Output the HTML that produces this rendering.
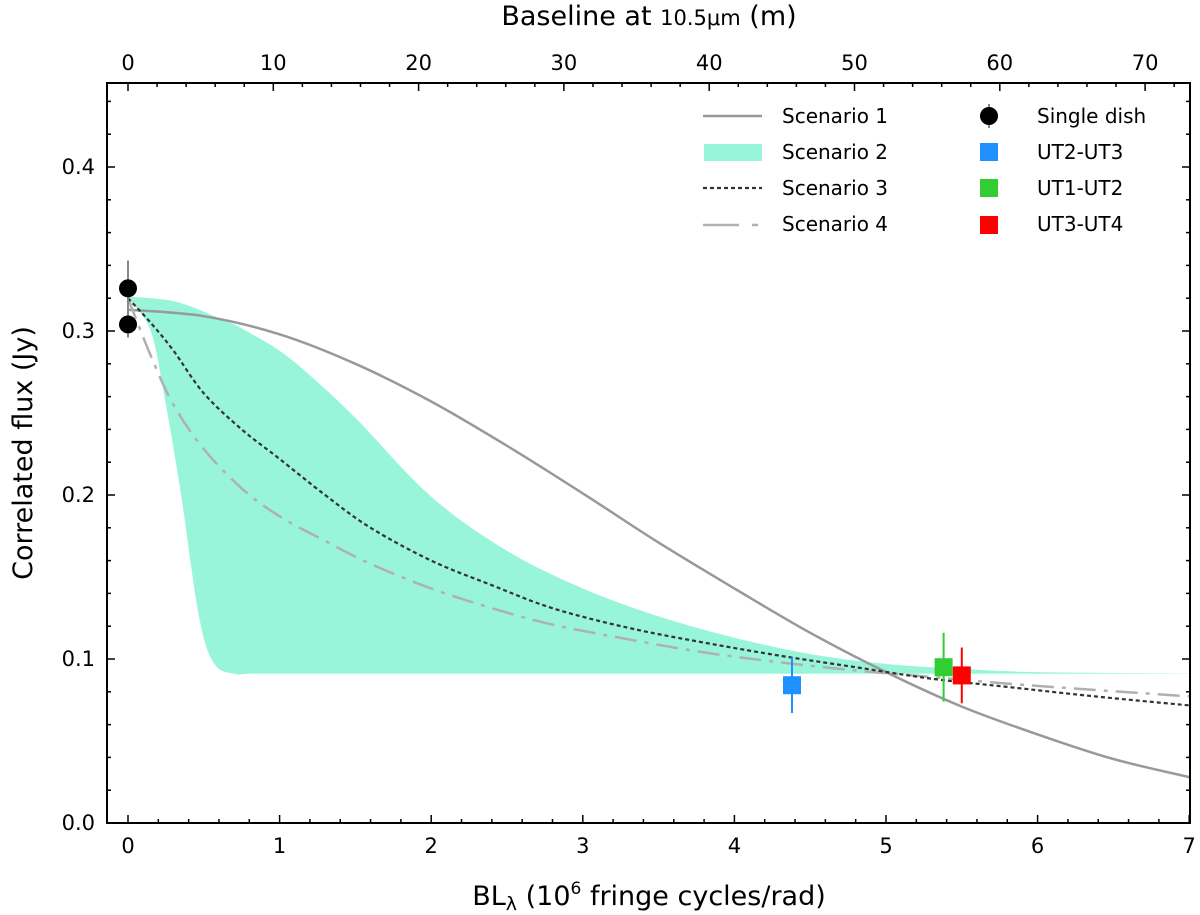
<!DOCTYPE html>
<html><head><meta charset="utf-8">
<style>
html,body{margin:0;padding:0;background:#fff;}
svg{display:block;font-family:"DejaVu Sans","Liberation Sans",sans-serif;}
</style></head>
<body>
<svg id="chart" width="1200" height="915" viewBox="0 0 1200 915">
<defs><clipPath id="clip"><rect x="107" y="83" width="1083" height="740"/></clipPath></defs>
<g id="plot" clip-path="url(#clip)"></g>
<g id="axes"></g>
<text x="649" y="905" text-anchor="middle" font-size="27">BL<tspan font-size="19" dy="5">λ</tspan><tspan dy="-5"> (10</tspan><tspan font-size="17" dy="-11">6</tspan><tspan dy="11"> fringe cycles/rad)</tspan></text>
<text x="649" y="25" text-anchor="middle" font-size="27">Baseline at <tspan font-size="21">10.5μm</tspan> (m)</text>
<text transform="translate(32,453) rotate(-90)" text-anchor="middle" font-size="27">Correlated flux (Jy)</text>
<g font-size="20">
 <g><line x1="703" x2="762" y1="116" y2="116" stroke="#999" stroke-width="2.5"/><text x="782" y="123">Scenario 1</text></g>
 <g><rect x="704" y="144" width="58" height="17" fill="#98f5d9"/><text x="782" y="159">Scenario 2</text></g>
 <g><line x1="703" x2="762" y1="188" y2="188" stroke="#333" stroke-width="2.2" stroke-dasharray="4,3"/><text x="782" y="195">Scenario 3</text></g>
 <g><line x1="703" x2="739" y1="225" y2="225" stroke="#b0b0b0" stroke-width="2.5"/><line x1="752" x2="758" y1="225" y2="225" stroke="#b0b0b0" stroke-width="2.5"/><text x="782" y="231">Scenario 4</text></g>
 <g><line x1="989" x2="989" y1="104" y2="128" stroke="#888" stroke-width="2"/><circle cx="989" cy="116" r="9" fill="#000"/><text x="1037" y="123">Single dish</text></g>
 <g><rect x="980" y="143" width="18" height="18" fill="#1e90ff"/><text x="1037" y="159">UT2-UT3</text></g>
 <g><rect x="980" y="179" width="18" height="18" fill="#32cd32"/><text x="1037" y="195">UT1-UT2</text></g>
 <g><rect x="980" y="216" width="18" height="18" fill="#ff0000"/><text x="1037" y="231">UT3-UT4</text></g>
</g>
</svg>
<script>
const s1X=[0,0.5,1,1.5,2,2.5,3,3.5,4,4.5,5,5.5,6,6.5,7,7.2];
const s1Y=[0.313,0.309,0.298,0.280,0.257,0.230,0.201,0.171,0.143,0.116,0.092,0.071,0.054,0.039,0.028,0.024];
const s2X=[0,0.15,0.25,0.35,0.47,0.57,0.7,0.8,1.0,1.2,1.5,2,2.5,3,3.5,4,4.5,5,5.5,6,7.2];
const s2Upper=[0.321,0.320,0.319,0.317,0.313,0.309,0.304,0.299,0.288,0.273,0.247,0.199,0.166,0.143,0.126,0.113,0.103,0.097,0.094,0.092,0.091];
const s2Lower=[0.320,0.300,0.255,0.200,0.125,0.097,0.091,0.091,0.091,0.091,0.091,0.091,0.091,0.091,0.091,0.091,0.091,0.091,0.091,0.091,0.091];
const s3X=[0,0.15,0.3,0.5,0.75,1.0,1.3,1.6,2.0,2.4,2.8,3.3,3.8,4.3,4.8,5.3,5.8,6.4,7.2];
const s3Y=[0.320,0.305,0.288,0.262,0.240,0.222,0.200,0.180,0.160,0.145,0.131,0.119,0.110,0.102,0.095,0.088,0.083,0.077,0.070];
const s4X=[0,0.15,0.3,0.5,0.75,1.0,1.3,1.6,2.0,2.4,2.8,3.3,3.8,4.3,4.8,5.3,5.8,6.4,7.2];
const s4Y=[0.320,0.285,0.255,0.228,0.204,0.187,0.172,0.158,0.143,0.131,0.121,0.112,0.104,0.098,0.093,0.089,0.085,0.081,0.076];
const ptNames=["single-dish-a","single-dish-b","ut2-ut3","ut1-ut2","ut3-ut4"];
const ptX=[0,0,4.38,5.38,5.5];
const ptY=[0.326,0.304,0.084,0.095,0.090];
const ptErr=[0.017,0.008,0.017,0.021,0.017];
const ptColor=["#000","#000","#1e90ff","#32cd32","#ff0000"];
const ptShape=["circle","circle","square","square","square"];
const xTicks=[0,1,2,3,4,5,6,7];
const yTicks=[0.0,0.1,0.2,0.3,0.4];
const topTicks=[0,10,20,30,40,50,60,70];

const NS="http://www.w3.org/2000/svg";
const X0=107,X1=1190,Y0=83,Y1=823;
const xs=v=>128+v*151.6;
const ys=v=>823-v*1640;
const xm=m=>128+m*14.53;
function el(t,a,p){const e=document.createElementNS(NS,t);for(const k in a)e.setAttribute(k,a[k]);p.appendChild(e);return e;}
const plot=document.getElementById('plot'),axes=document.getElementById('axes');
function smooth(X,Y,move){
  const P=X.map((x,i)=>[xs(x),ys(Y[i])]);
  let d=(move?'M':'L')+P[0][0].toFixed(1)+','+P[0][1].toFixed(1);
  for(let i=0;i<P.length-1;i++){
    const p0=P[Math.max(i-1,0)],p1=P[i],p2=P[i+1],p3=P[Math.min(i+2,P.length-1)];
    const c1=[p1[0]+(p2[0]-p0[0])/6,p1[1]+(p2[1]-p0[1])/6];
    const c2=[p2[0]-(p3[0]-p1[0])/6,p2[1]-(p3[1]-p1[1])/6];
    d+='C'+c1.map(v=>v.toFixed(1))+' '+c2.map(v=>v.toFixed(1))+' '+p2.map(v=>v.toFixed(1));
  }
  return d;
}
const line=(X,Y)=>smooth(X,Y,true);

let band=smooth(s2X,s2Upper,true)+smooth(s2X.slice().reverse(),s2Lower.slice().reverse(),false)+'Z';
let e=el('path',{d:band,fill:'#98f5d9',stroke:'none'},plot);


e=el('path',{d:line(s1X,s1Y),fill:'none',stroke:'#999',"stroke-width":2.5},plot);


e=el('path',{d:line(s4X,s4Y),fill:'none',stroke:'#b0b0b0',"stroke-width":2.5,"stroke-dasharray":"22,8,4,8"},plot);


e=el('path',{d:line(s3X,s3Y),fill:'none',stroke:'#333',"stroke-width":2.2,"stroke-dasharray":"4,3"},plot);


ptX.forEach((x,i)=>{
  const g=el('g',{},plot);
  
  
  const cx=xs(x),cy=ys(ptY[i]);
  el('line',{x1:cx,x2:cx,y1:ys(ptY[i]+ptErr[i]),y2:ys(ptY[i]-ptErr[i]),stroke:ptColor[i]==='#000'?'#888':ptColor[i],"stroke-width":2},g);
  if(ptShape[i]==='circle')el('circle',{cx,cy,r:9,fill:ptColor[i]},g);
  else el('rect',{x:cx-9,y:cy-9,width:18,height:18,fill:ptColor[i]},g);
});
e=el('rect',{x:X0,y:Y0,width:X1-X0,height:Y1-Y0,fill:'none',stroke:'#000',"stroke-width":2},axes);


for(let v=-0.2;v<=7.01;v+=0.2){const x=xs(v);if(x<X0||x>X1)continue;
  const maj=Math.abs(v-Math.round(v))<1e-6;const L=maj?8:4;
  el('line',{x1:x,x2:x,y1:Y1,y2:Y1-L,stroke:'#000','stroke-width':1.5},axes);}
for(let m=0;m<=74;m+=2){const x=xm(m);if(x>X1)continue;const L=m%10===0?8:4;
  el('line',{x1:x,x2:x,y1:Y0,y2:Y0+L,stroke:'#000','stroke-width':1.5},axes);}
for(let v=0;v<=0.45;v+=0.02){const y=ys(v);if(y<Y0)continue;const maj=Math.round(v*100)%10===0;const L=maj?8:4;
  el('line',{x1:X0,x2:X0+L,y1:y,y2:y,stroke:'#000','stroke-width':1.5},axes);
  el('line',{x1:X1,x2:X1-L,y1:y,y2:y,stroke:'#000','stroke-width':1.5},axes);}
xTicks.forEach(v=>{const t=el('text',{x:xs(v),y:853,'text-anchor':'middle','font-size':21},axes);t.textContent=v;
  
  });
topTicks.forEach(v=>{const t=el('text',{x:xm(v),y:70,'text-anchor':'middle','font-size':21},axes);t.textContent=v;
  
  });
yTicks.forEach(v=>{const t=el('text',{x:95,y:ys(v)+7,'text-anchor':'end','font-size':21},axes);t.textContent=v.toFixed(1);
  
  });
</script>
</body></html>
